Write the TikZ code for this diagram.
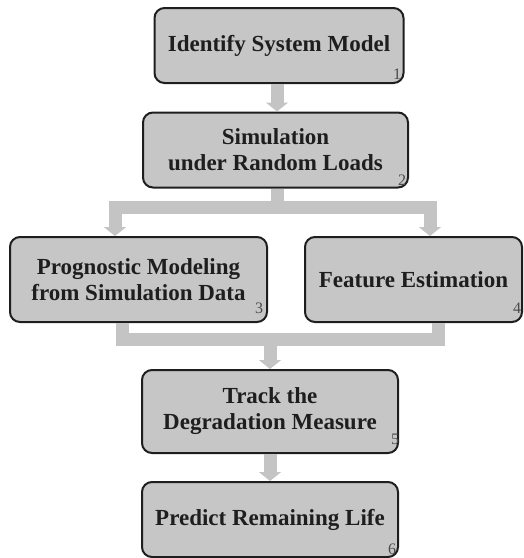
\documentclass[tikz,border=0pt]{standalone}
\usepackage{fontspec}
\setmainfont{Liberation Serif}
\usetikzlibrary{arrows.meta}
\definecolor{boxgray}{HTML}{C6C6C6}
\definecolor{flowgray}{HTML}{C4C4C4}
\definecolor{edgegray}{HTML}{1E1E1E}
\begin{document}
\begin{tikzpicture}[x=1pt, y=-1pt,
  stage/.style={draw=edgegray, line width=2pt, fill=boxgray, rounded corners=10pt,
    align=center, inner sep=0pt, text=edgegray,
    font=\fontsize{23}{26}\selectfont\bfseries},
  num/.style={font=\fontsize{16}{16}\selectfont, text=edgegray!80, inner sep=0pt},
  bar/.style={draw=flowgray, line width=13pt, line join=miter},
  flow/.style={bar, -{Triangle[width=22pt,length=9pt]}}]
  \useasboundingbox (0,0) rectangle (524,558);

  \node[stage, minimum width=249pt, minimum height=75pt] (ident) at (279, 45.5) {Identify System Model};
  \node[stage, minimum width=265pt, minimum height=75pt] (sim) at (275.5, 150) {Simulation\\under Random Loads};

  \node[stage, minimum width=257pt, minimum height=85pt] (prog) at (138.5, 279.5) {Prognostic Modeling\\from Simulation Data};
  \node[stage, minimum width=217pt, minimum height=85pt] (feat) at (413.5, 279.5) {Feature Estimation};

  \node[stage, minimum width=256pt, minimum height=83pt] (track) at (270, 411.5) {Track the\\Degradation Measure};
  \node[stage, minimum width=256pt, minimum height=75pt] (pred) at (270, 519.5) {Predict Remaining Life};

  \node[num] (n1) at (397, 74) {1};
  \node[num] (n2) at (402, 180) {2};
  \node[num] (n3) at (259, 308) {3};
  \node[num] (n4) at (517, 308) {4};
  \node[num] (n5) at (395, 439) {5};
  \node[num] (n6) at (392, 549) {6};

  \coordinate (fork) at (277, 207);
  \coordinate (forkL) at (115, 207);
  \coordinate (forkR) at (430, 207);
  \coordinate (merge) at (270, 339);
  \coordinate (joinL) at (122, 339);
  \coordinate (joinR) at (438, 339);

  \draw[flow] (ident.south -| fork) -- (sim.north -| fork);
  \draw[flow] (sim.south -| fork) -- (fork) -| (prog.north -| forkL);
  \draw[flow] (sim.south -| fork) -- (fork) -| (feat.north -| forkR);
  \draw[flow] (prog.south -| joinL) |- (merge) -- (track.north);
  \draw[bar] (feat.south -| joinR) |- (merge);
  \draw[flow] (track) -- (pred);

  \end{tikzpicture}
\end{document}
